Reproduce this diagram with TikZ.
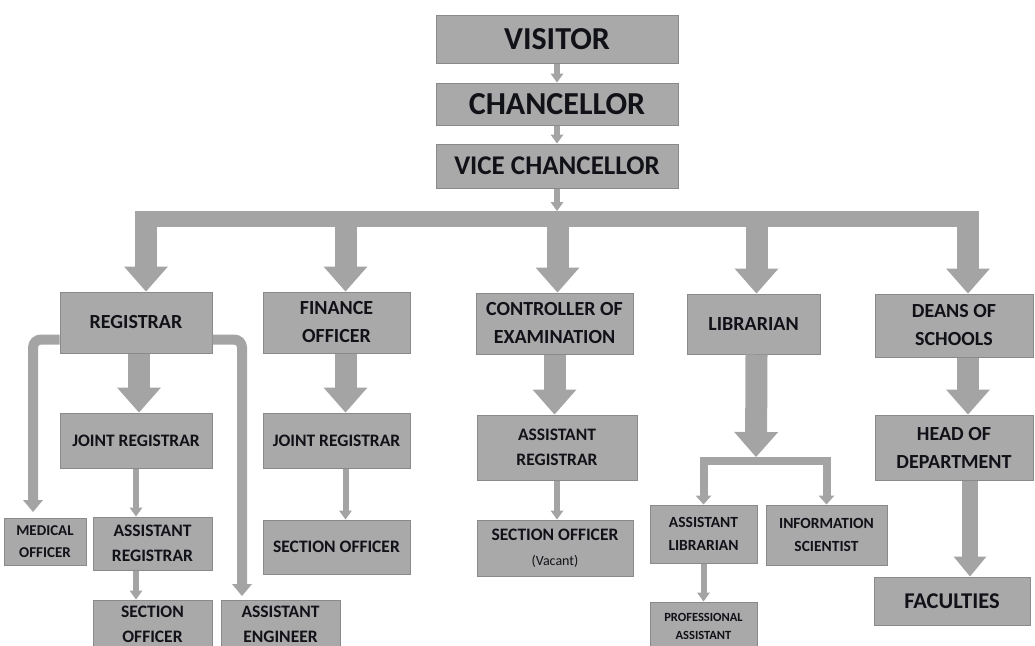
\documentclass[tikz,border=0pt]{standalone}
\usepackage{fontspec}
\setmainfont{Carlito}
\usetikzlibrary{arrows.meta, positioning, calc}
\definecolor{boxgrey}{HTML}{A9A9A9}
\definecolor{boxedge}{HTML}{8A8A8A}
\definecolor{arrowgrey}{HTML}{A4A4A4}
\definecolor{ink}{HTML}{111118}

\begin{document}
\begin{tikzpicture}[x=1pt, y=-1pt,
        box/.style={draw=boxedge, fill=boxgrey, text=ink, line width=1pt, align=center, inner sep=1pt},
        topbox/.style={box, minimum width=242pt, font=\bfseries\fontsize{32}{34}\selectfont},
        headbox/.style={box, font=\bfseries\fontsize{20}{28}\selectfont},
        midbox/.style={box, font=\bfseries\fontsize{17.5}{25}\selectfont},
        smallbox/.style={box, font=\bfseries\fontsize{15}{22}\selectfont},
        thinarrow/.style={draw=arrowgrey, line width=6pt, -{Triangle[length=9pt, width=13pt, line width=0pt]}},
        bigarrow/.style={draw=arrowgrey, line width=22pt, -{Triangle[length=25pt, width=44pt, line width=0pt]}},
        midarrow/.style={draw=arrowgrey, line width=16pt, -{Triangle[length=20pt, width=33pt, line width=0pt]}},
        hookarrow/.style={draw=arrowgrey, line width=10pt, rounded corners=8pt, -{Triangle[length=12pt, width=20pt, line width=0pt]}},
        forkarrow/.style={draw=arrowgrey, line width=8pt, -{Triangle[length=9pt, width=16pt, line width=0pt]}},
        barline/.style={draw=arrowgrey, line width=16pt}
    ]
        \useasboundingbox (0,0) rectangle (1035,645);

        % Top of the chart
        \node[topbox, minimum height=48pt] (visitor) at (557,39) {VISITOR};
        \node[topbox, minimum height=42pt] (chancellor) at (557,104) {CHANCELLOR};
        \node[topbox, minimum height=44pt, font=\bfseries\fontsize{27}{30}\selectfont] (vc) at (557,166) {VICE CHANCELLOR};
        \coordinate (vcbar) at (557,219);
        \coordinate (vcbartop) at (557,211);

        % Officers
        \node[headbox, minimum width=152pt, minimum height=61pt] (registrar) at (136,322.5) {REGISTRAR};
        \node[headbox, minimum width=147pt, minimum height=61pt] (finance) at (336.5,322.5) {FINANCE\\OFFICER};
        \node[headbox, minimum width=157pt, minimum height=61pt] (coe) at (554.5,323.5) {CONTROLLER OF\\EXAMINATION};
        \node[headbox, minimum width=133pt, minimum height=60pt] (librarian) at (753.5,324) {LIBRARIAN};
        \node[headbox, minimum width=158pt, minimum height=63pt] (deans) at (954,325.5) {DEANS OF\\SCHOOLS};

        % Second level
        \node[midbox, minimum width=152pt, minimum height=55pt] (jreg) at (136,440.5) {JOINT REGISTRAR};
        \node[midbox, minimum width=147pt, minimum height=55pt] (fjreg) at (336.5,440.5) {JOINT REGISTRAR};
        \node[midbox, minimum width=160pt, minimum height=65pt] (creg) at (557,447.5) {ASSISTANT\\REGISTRAR};
        \node[headbox, minimum width=158pt, minimum height=65pt] (hod) at (954,447.5) {HEAD OF\\DEPARTMENT};
        \coordinate (libtip) at (756,457);
        \coordinate (libbar) at (756,461);

        % Third level
        \node[smallbox, minimum width=82pt, minimum height=47pt] (medical) at (45,541.5) {MEDICAL\\OFFICER};
        \node[midbox, minimum width=119pt, minimum height=53pt] (areg) at (152.5,543.5) {ASSISTANT\\REGISTRAR};
        \node[midbox, minimum width=147pt, minimum height=54pt] (fsec) at (336.5,547) {SECTION OFFICER};
        \node[midbox, minimum width=156pt, minimum height=56pt] (csec) at (555,548) {SECTION OFFICER\\{\mdseries\fontsize{14}{16}\selectfont(Vacant)}};
        \node[smallbox, font=\bfseries\fontsize{15.5}{23}\selectfont, minimum width=107pt, minimum height=58pt] (alib) at (703.5,534) {ASSISTANT\\LIBRARIAN};
        \node[smallbox, font=\bfseries\fontsize{15.5}{23}\selectfont, minimum width=121pt, minimum height=60pt] (isci) at (826.5,535) {INFORMATION\\SCIENTIST};
        \coordinate (medtop) at (33,512);
        \coordinate (engtop) at (242,596);

        % Bottom level
        \node[midbox, minimum width=119pt, minimum height=48pt] (rsec) at (152.5,624) {SECTION\\OFFICER};
        \node[midbox, minimum width=119pt, minimum height=48pt] (aeng) at (280.5,624) {ASSISTANT\\ENGINEER};
        \node[box, font=\bfseries\fontsize{12.5}{18}\selectfont, minimum width=107pt, minimum height=48pt] (prof) at (703.5,626) {PROFESSIONAL\\ASSISTANT};
        \node[box, font=\bfseries\fontsize{22.5}{24}\selectfont, minimum width=156pt, minimum height=48pt] (faculties) at (952,601) {FACULTIES};

        % Connectors
        \draw[thinarrow] (visitor) -- (chancellor);
        \draw[thinarrow] (chancellor) -- (vc);
        \draw[thinarrow] (vc) -- (vcbartop);
        \draw[barline] ($(registrar.north |- vcbar)+(10,0)$) -- ($(deans.north |- vcbar)+(14,0)$);
        \foreach \n/\dx in {registrar/10, finance/9, coe/3, librarian/3, deans/14}
            \draw[bigarrow] ($(\n.north |- vcbartop)+(\dx,0)$) -- ($(\n.north)+(\dx,0)$);

        \draw[bigarrow] ($(registrar.south)+(3,0)$) -- ($(jreg.north)+(3,0)$);
        \draw[bigarrow] ($(finance.south)+(9,0)$) -- ($(fjreg.north)+(9,0)$);
        \draw[bigarrow] (coe.south) -- (coe.south |- creg.north);
        \draw[bigarrow] ($(deans.south)+(14,0)$) -- ($(hod.north)+(14,0)$);
        \draw[bigarrow] ($(librarian.south)+(3,0)$) -- (libtip);
        \draw[forkarrow] (libbar) -| (alib.north);
        \draw[forkarrow] (libbar) -| (isci.north);

        \draw[hookarrow] ($(registrar.west)+(0,17)$) -| (medtop);
        \draw[hookarrow] ($(registrar.east)+(0,17)$) -| (engtop);
        \draw[thinarrow] (jreg.south) -- (jreg.south |- areg.north);
        \draw[thinarrow] (areg.south -| jreg.south) -- (rsec.north -| jreg.south);
        \draw[thinarrow] ($(fjreg.south)+(9,0)$) -- ($(fsec.north)+(9,0)$);
        \draw[thinarrow] (creg.south) -- (creg.south |- csec.north);
        \draw[thinarrow] (alib) -- (prof);
        \draw[midarrow] ($(hod.south)+(16,0)$) -- ($(faculties.north)+(18,0)$);
    \end{tikzpicture}
\end{document}
